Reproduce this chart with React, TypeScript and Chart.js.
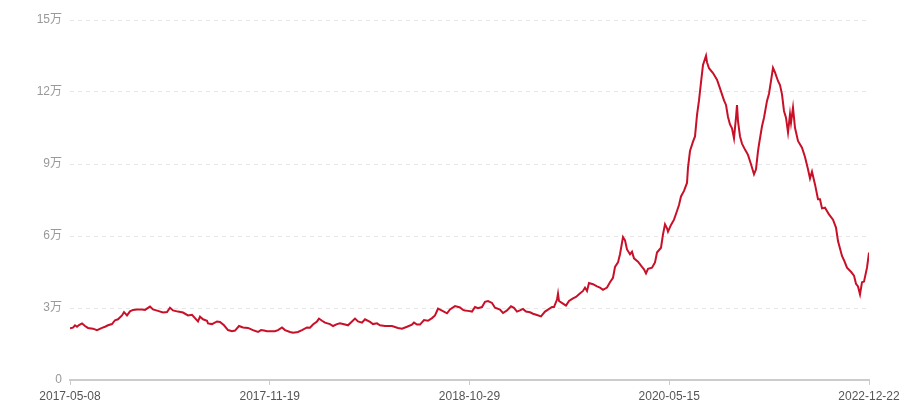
import React, { useEffect, useRef } from "react";
import { Chart, registerables } from "chart.js";

Chart.register(...registerables);

const xTickLabels = ["2017-05-08", "2017-11-19", "2018-10-29", "2020-05-15", "2022-12-22"];
const xTickPositions = [0, 199.75, 399.5, 599.25, 799];
const yTickValues = [0, 30000, 60000, 90000, 120000, 150000];
const yTickLabels = ["0", "3万", "6万", "9万", "12万", "15万"];

const sampleIndex = [
  0, 3, 5, 7, 9, 12, 15, 18, 23, 27, 32, 35, 38, 42, 45, 48, 52, 54, 57, 60,
  63, 67, 72, 75, 80, 83, 88, 93, 97, 100, 103, 108, 113, 118, 122, 125, 128, 130, 133, 137,
  138, 142, 147, 150, 154, 158, 162, 165, 169, 173, 178, 183, 188, 191, 194, 197, 200, 205, 208, 212,
  215, 220, 223, 228, 232, 237, 240, 243, 247, 249, 252, 255, 260, 263, 267, 270, 275, 278, 282, 285,
  288, 292, 295, 300, 303, 307, 310, 315, 322, 328, 332, 337, 342, 344, 347, 350, 354, 358, 362, 365,
  368, 372, 377, 380, 385, 390, 393, 395, 398, 402, 405, 408, 412, 415, 418, 422, 425, 430, 433, 437,
  441, 444, 447, 450, 453, 456, 460, 463, 467, 471, 475, 478, 482, 484, 487, 488, 489, 493, 496, 499,
  503, 506, 509, 513, 515, 517, 519, 523, 527, 530, 533, 537, 540, 543, 545, 548, 550, 553, 555, 557,
  560, 562, 564, 568, 572, 574, 576, 578, 582, 585, 587, 591, 593, 595, 597, 598, 601, 604, 607, 609,
  611, 614, 617, 618, 620, 623, 625, 627, 629, 631, 633, 636, 637, 639, 643, 647, 650, 654, 656, 658,
  660, 662, 664, 666, 667, 668, 670, 672, 675, 678, 681, 684, 686, 688, 689, 692, 694, 697, 699, 701,
  703, 705, 708, 710, 712, 714, 716, 718, 720, 721, 723, 725, 728, 732, 735, 738, 740, 742, 745, 748,
  750, 752, 755, 759, 763, 766, 768, 772, 774, 777, 781, 784, 786, 788, 790, 792, 794, 797, 799,
];

const price = [
  21600, 21800, 22800, 22200, 22900, 23600, 22500, 21700, 21400, 20800, 21700, 22200, 22800, 23300, 24900, 25300, 26900, 28300, 26900, 28600,
  29200, 29400, 29400, 29200, 30600, 29400, 28800, 28100, 28300, 30100, 29000, 28500, 28100, 26900, 27200, 25800, 24400, 26400, 25300, 24700,
  23600, 23300, 24400, 24200, 22800, 20800, 20300, 20600, 22500, 21900, 21700, 20800, 20000, 20800, 20600, 20300, 20300, 20300, 20800, 21900,
  20800, 20000, 19700, 20000, 20800, 21900, 21800, 23100, 24400, 25600, 24700, 23900, 23300, 22500, 23300, 23600, 23100, 22800, 24400, 25600,
  24400, 23900, 25300, 24200, 23300, 23600, 22800, 22500, 22500, 21700, 21400, 22200, 23100, 23900, 23100, 23100, 25000, 24700, 25800, 26900,
  29700, 28900, 27800, 29400, 30800, 30200, 29200, 29000, 28800, 28500, 30400, 29900, 30400, 32600, 32900, 32100, 30100, 29300, 27900, 29000,
  30700, 30100, 28500, 29000, 29600, 28500, 28200, 27600, 27100, 26500, 28500, 29300, 30400, 30400, 33500, 36000, 32900, 31800, 31000, 32900,
  34000, 34600, 35700, 37100, 38500, 37100, 40400, 39900, 39000, 38500, 37600, 38500, 40700, 42600, 47100, 49000, 52400, 59600, 58200, 54400,
  52400, 53500, 50700, 49300, 47100, 46100, 44400, 46300, 46800, 49000, 53100, 55100, 60700, 64900, 63200, 61800, 64600, 66800, 70400, 72900,
  76500, 78800, 82100, 88500, 95400, 99300, 101500, 110400, 116500, 124000, 131300, 135100, 132400, 129900, 127900, 125100, 121500, 116500, 114600, 109600,
  106500, 104900, 100700, 109400, 114600, 107900, 101500, 98500, 96000, 93800, 89900, 85700, 87800, 95400, 98200, 105700, 109300, 116300, 119300, 124600,
  130100, 128200, 124600, 122900, 119000, 112100, 109300, 103200, 110700, 107200, 113500, 105100, 99600, 96800, 92900, 87800, 84000, 86800, 81500, 75300,
  75300, 71500, 71800, 69000, 66800, 63500, 57900, 51700, 49900, 46800, 45100, 43500, 40100, 39000, 35700, 40700, 41000, 46800, 53100,
];

const FONT = "'Liberation Sans', 'Noto Sans CJK SC', sans-serif";

export default function App() {
  const canvasRef = useRef<HTMLCanvasElement | null>(null);

  useEffect(() => {
    const canvas = canvasRef.current;
    if (!canvas) return;
    const points = sampleIndex.map((x, i) => ({ x, y: price[i] }));
    const chart = new Chart(canvas, {
      type: "line",
      data: {
        datasets: [
          {
            data: points,
            borderColor: "#c81028",
            borderWidth: 2,
            pointRadius: 0,
            tension: 0,
            fill: false,
          },
        ],
      },
      options: {
        animation: false,
        responsive: false,
        parsing: false as any,
        layout: { padding: { top: 20, right: 31, bottom: 0, left: 0 } },
        plugins: {
          legend: { display: false },
          tooltip: { enabled: false },
        },
        scales: {
          x: {
            type: "linear",
            min: 0,
            max: 799,
            afterBuildTicks: (s: any) => {
              s.ticks = xTickPositions.map((v) => ({ value: v }));
            },
            afterFit: (s: any) => {
              s.height = 20;
              s.paddingLeft = 0;
              s.paddingRight = 0;
            },
            ticks: {
              autoSkip: false,
              maxRotation: 0,
              color: "#555",
              padding: 4,
              font: { size: 12, family: FONT },
              callback: (_v: any, i: number) => xTickLabels[i],
            },
            grid: {
              drawOnChartArea: false,
              drawTicks: true,
              tickLength: 5,
              color: "#cccccc",
            },
            border: { color: "#cccccc", width: 2 },
          },
          y: {
            min: 0,
            max: 150000,
            afterBuildTicks: (s: any) => {
              s.ticks = yTickValues.map((v) => ({ value: v }));
            },
            afterFit: (s: any) => {
              s.width = 70;
              s.paddingTop = 0;
              s.paddingBottom = 0;
            },
            ticks: {
              color: "#999",
              padding: 8,
              font: { size: 12, family: FONT },
              callback: (_v: any, i: number) => yTickLabels[i],
            },
            grid: {
              color: "#e6e6e6",
              drawTicks: false,
              lineWidth: 1,
            },
            border: { display: false, dash: [4, 4] },
          },
        },
      },
    });
    return () => chart.destroy();
  }, []);

  return (
    <div style={{ position: "absolute", left: 0, top: 0, width: 900, height: 400 }}>
      <canvas ref={canvasRef} width={900} height={400} style={{ display: "block" }} />
    </div>
  );
}
